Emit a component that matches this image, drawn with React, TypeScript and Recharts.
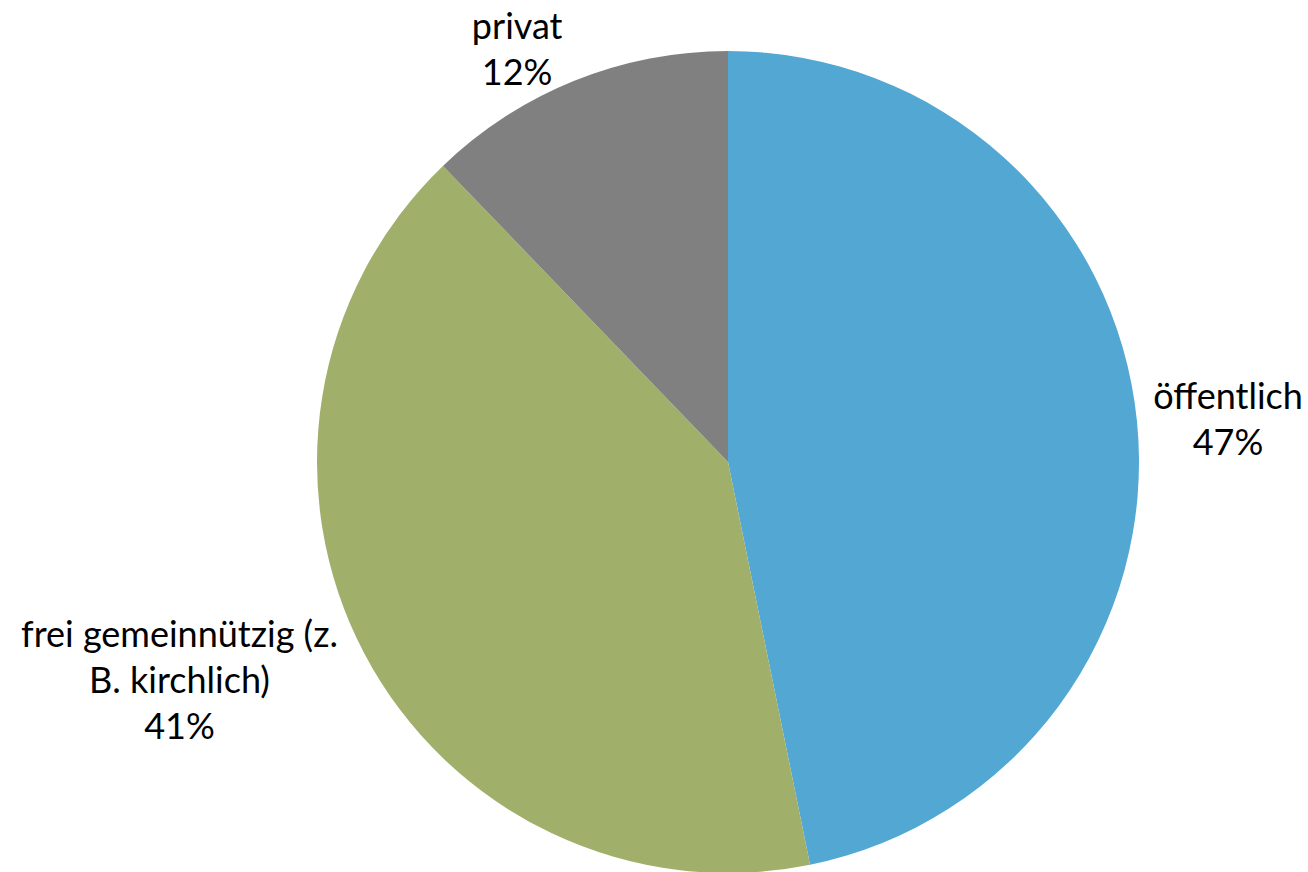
import { PieChart, Pie, Cell } from "recharts";

const categories = ["öffentlich", "frei gemeinnützig (z. B. kirchlich)", "privat"];
// slice sizes; labels show the rounded percentages
const shares = [46.8, 41.0, 12.2];
const percentLabels = ["47%", "41%", "12%"];
const labelLines = [["öffentlich"], ["frei gemeinnützig (z.", "B. kirchlich)"], ["privat"]];

const COLORS = ["#53a7d3", "#a0b06a", "#808080"];
// label placement: distance from centre and angle shift (deg) against mid angle
const LABEL_POS = [
  { r: 502, shift: -0.7 },
  { r: 590, shift: -6.1 },
  { r: 465, shift: 5.0 },
];

const data = categories.map((name, i) => ({ name, value: shares[i] }));

const RAD = Math.PI / 180;

function renderLabel(props: any) {
  const { cx, cy, midAngle, index } = props;
  const pos = LABEL_POS[index];
  const a = (midAngle + pos.shift) * RAD;
  const x = cx + pos.r * Math.cos(a);
  const y = cy - pos.r * Math.sin(a);
  const lines = [...labelLines[index], percentLabels[index]];
  const step = 46;
  return (
    <text
      x={x}
      y={y}
      textAnchor="middle"
      fill="#000"
      fontFamily="Lato, 'Open Sans', sans-serif"
      fontSize={36}
    >
      {lines.map((l, i) => (
        <tspan key={i} x={x} y={y + (i - (lines.length - 1) / 2) * step} dominantBaseline="central">
          {l}
        </tspan>
      ))}
    </text>
  );
}

export default function App() {
  return (
    <div style={{ position: "absolute", left: 0, top: 0, width: 1308, height: 872, background: "#fff" }}>
      <PieChart width={1308} height={872} margin={{ top: 0, right: 0, bottom: 0, left: 0 }}>
        <Pie
          data={data}
          dataKey="value"
          nameKey="name"
          cx={728}
          cy={462}
          outerRadius={411}
          startAngle={90}
          endAngle={-270}
          stroke="none"
          label={renderLabel}
          labelLine={false}
          isAnimationActive={false}
        >
          {data.map((d, i) => (
            <Cell key={d.name} fill={COLORS[i]} />
          ))}
        </Pie>
      </PieChart>
    </div>
  );
}
